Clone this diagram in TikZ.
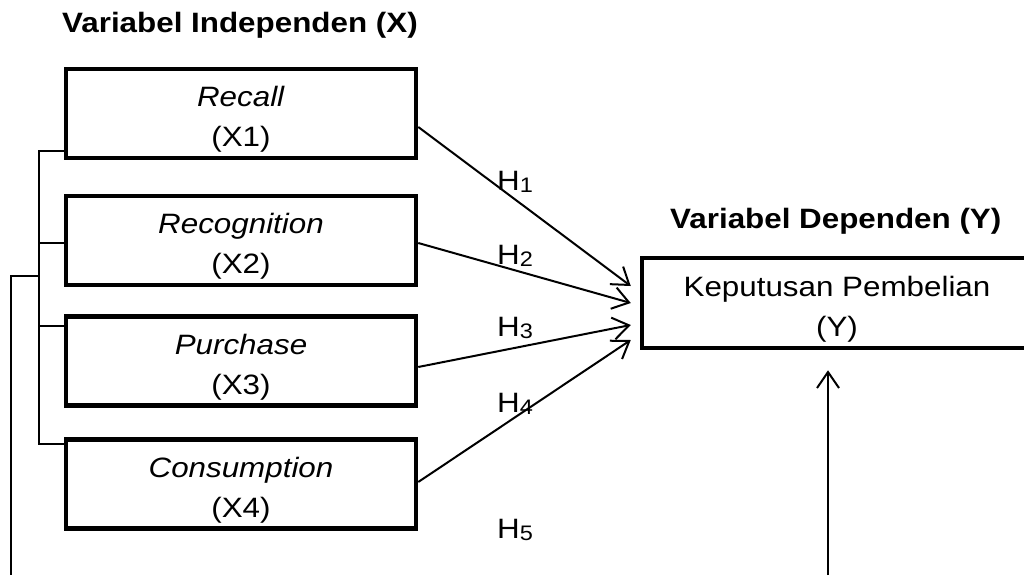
\documentclass[tikz,border=0pt]{standalone}
\usepackage{fontspec}
\setmainfont{Liberation Sans}[FakeStretch=1.12]
\usetikzlibrary{arrows.meta,positioning}
\newcommand{\hyp}[1]{H\raisebox{-1.5pt}{\fontsize{21}{21}\selectfont #1}}
\tikzset{
  boxtext/.style={align=center,inner sep=0pt,font=\fontsize{28}{40}\selectfont},
  varbox/.style={draw,line width=4.5pt,minimum width=350pt,minimum height=89pt,
    inner sep=0pt,label={[boxtext,yshift=-6pt]center:{#1}}},
  heading/.style={anchor=base west,inner sep=0pt,font=\bfseries\fontsize{28}{28}\selectfont},
  link/.style={line width=2pt,-{Straight Barb[length=16pt,width=22pt]}},
  hlabel/.style={anchor=west,inner sep=0pt,font=\fontsize{28}{28}\selectfont},
  brace/.style={line width=1.4pt}
}
\begin{document}
\begin{tikzpicture}[x=1pt,y=-1pt]
  \useasboundingbox (0,0) rectangle (1024,575);

  % independent side
  \node[heading] (titleX) at (62,33) {Variabel Independen (X)};
  \node[varbox={\textit{Recall}\\(X1)}] (x1) at (241,113.5) {};
  \node[varbox={\textit{Recognition}\\(X2)}] (x2) at (241,240.5) {};
  \node[varbox={\textit{Purchase}\\(X3)}] (x3) at (241,361) {};
  \node[varbox={\textit{Consumption}\\(X4)}] (x4) at (241,484) {};

  % dependent side
  \node[heading] (titleY) at (670,228) {Variabel Dependen (Y)};
  \node[varbox={Keputusan Pembelian\\(Y)},minimum width=390pt,minimum height=90pt] (y) at (837,303) {};

  \draw[link] ([yshift=-13.5pt]x1.east) -- ([xshift=-9pt,yshift=17pt]y.west);
  \draw[link] ([yshift=-2.5pt]x2.east) -- ([xshift=-9pt]y.west);
  \draw[link] ([yshift=-6pt]x3.east) -- ([xshift=-9pt,yshift=-22pt]y.west);
  \draw[link] ([yshift=2pt]x4.east) -- ([xshift=-9pt,yshift=-37pt]y.west);

  \node[hlabel] (h1) at (497,182) {\hyp{1}};
  \node[hlabel] (h2) at (497,256) {\hyp{2}};
  \node[hlabel] (h3) at (497,328) {\hyp{3}};
  \node[hlabel] (h4) at (497,404) {\hyp{4}};
  \node[hlabel] (h5) at (497,530) {\hyp{5}};

  % bracket joining the X boxes
  \draw[brace] ([yshift=-37.5pt]x1.west) -| (39,444) -- ([yshift=40pt]x4.west);
  \draw[brace] (39,243) -- ([yshift=-2.5pt]x2.west);
  \draw[brace] (39,326) -- ([yshift=35pt]x3.west);
  \coordinate (low) at (11,575);
  \draw[brace] (39,276) -- (11,276) -- (low);

  \coordinate (base) at (828,575);
  \draw[link] (base) -- ([yshift=-20pt]y.south -| base);
\end{tikzpicture}
\end{document}
